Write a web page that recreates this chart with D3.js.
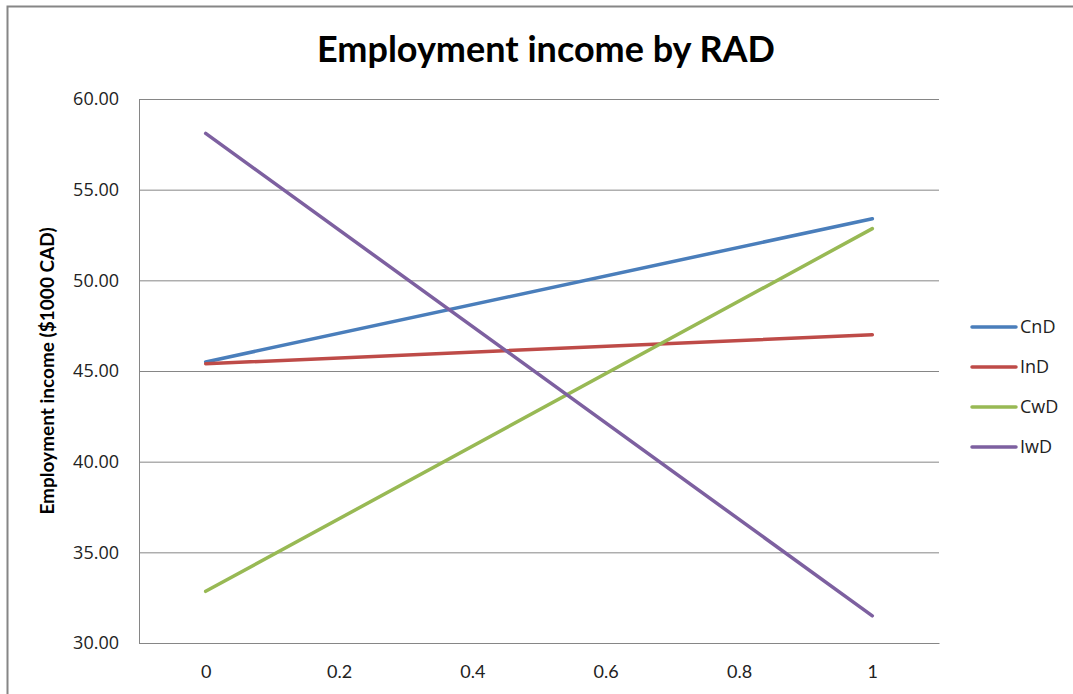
<!DOCTYPE html>
<html>
<head>
<meta charset="utf-8">
<script src="https://cdn.jsdelivr.net/npm/d3@7"></script>
<style>
  body { margin: 0; background: #fff; }
  svg { display: block; }
</style>
</head>
<body>
<div class="container"></div>
<script>
// series values (x = 0 and x = 1)
const xValues = [0, 1]
const cnd = [45.5, 53.4]
const ind = [45.4, 47.0]
const cwd = [32.85, 52.85]
const iwd = [58.1, 31.5]
const seriesNames = ["CnD", "InD", "CwD", "IwD"]
const seriesColors = ["#4A7EBB", "#BE4B48", "#98B954", "#7D60A0"]
const yTicks = [30, 35, 40, 45, 50, 55, 60]
const xTicks = [0, 0.2, 0.4, 0.6, 0.8, 1]

const size = {WIDTH: 1073, HEIGHT: 694}
const plot = {left: 139, right: 939, top: 99, bottom: 643}

const series = [cnd, ind, cwd, iwd].map((vals, i) => ({
    name: seriesNames[i],
    color: seriesColors[i],
    points: vals.map((v, j) => ({x: xValues[j], y: v}))
}))

const svg = d3.select(".container")
    .append("svg")
    .attr("width", size.WIDTH)
    .attr("height", size.HEIGHT)

// outer chart frame (cut off at the right and bottom)
svg.append("rect")
    .attr("x", 7.5)
    .attr("y", 6.5)
    .attr("width", 1100)
    .attr("height", 720)
    .attr("fill", "white")
    .attr("stroke", "#868686")
    .attr("stroke-width", 2)

const xScale = d3.scaleLinear()
    .domain([-0.1, 1.1])
    .range([plot.left, plot.right])

const yScale = d3.scaleLinear()
    .domain([30, 60])
    .range([plot.bottom, plot.top])

// gridlines + y labels
const yAxis = d3.axisLeft(yScale)
    .tickValues(yTicks)
    .tickSize(-(plot.right - plot.left))
    .tickPadding(20)
    .tickFormat(d3.format(".2f"))

const gy = svg.append("g")
    .attr("transform", `translate(${plot.left},0)`)
    .call(yAxis)
gy.select(".domain").attr("stroke", "#868686")
gy.selectAll(".tick line").attr("stroke", "#868686")
gy.selectAll(".tick text")
    .attr("font-family", "'Open Sans', sans-serif")
    .attr("font-size", "18px")
    .attr("fill", "#222")

// x axis, labels only
const xAxis = d3.axisBottom(xScale)
    .tickValues(xTicks)
    .tickSize(0)
    .tickPadding(22)
    .tickFormat(d3.format("~g"))

const gx = svg.append("g")
    .attr("transform", `translate(0,${plot.bottom})`)
    .call(xAxis)
gx.select(".domain").attr("stroke", "#868686")
gx.selectAll(".tick text")
    .attr("font-family", "Lato, sans-serif")
    .attr("font-size", "18px")
    .attr("fill", "#222")

// lines
const line = d3.line()
    .x((d) => xScale(d.x))
    .y((d) => yScale(d.y))

svg.selectAll(".serie")
    .data(series)
    .join("path")
    .attr("class", "serie")
    .attr("d", (d) => line(d.points))
    .attr("fill", "none")
    .attr("stroke", (d) => d.color)
    .attr("stroke-width", 3.5)
    .attr("stroke-linecap", "round")

// title
svg.append("text")
    .text("Employment income by RAD")
    .attr("x", 546)
    .attr("y", 62)
    .attr("text-anchor", "middle")
    .attr("font-family", "Lato, sans-serif")
    .attr("font-weight", "bold")
    .attr("font-size", "36px")
    .attr("fill", "#000")

// y axis title
svg.append("text")
    .text("Employment income ($1000 CAD)")
    .attr("transform", `translate(54,${(plot.top + plot.bottom) / 2}) rotate(-90)`)
    .attr("text-anchor", "middle")
    .attr("font-family", "Lato, sans-serif")
    .attr("font-weight", "bold")
    .attr("font-size", "19px")
    .attr("fill", "#000")

// legend
const legend = svg.selectAll(".leyenda")
    .data(series)
    .join("g")
    .attr("class", "leyenda")
    .attr("transform", (_, i) => `translate(972,${327 + i * 40})`)

legend.append("line")
    .attr("x1", 0)
    .attr("x2", 44)
    .attr("stroke", (d) => d.color)
    .attr("stroke-width", 3.5)
    .attr("stroke-linecap", "round")

legend.append("text")
    .text((d) => d.name)
    .attr("x", 48)
    .attr("y", 6)
    .attr("font-family", "'Open Sans', sans-serif")
    .attr("font-size", "18px")
    .attr("fill", "#222")
</script>
</body>
</html>
